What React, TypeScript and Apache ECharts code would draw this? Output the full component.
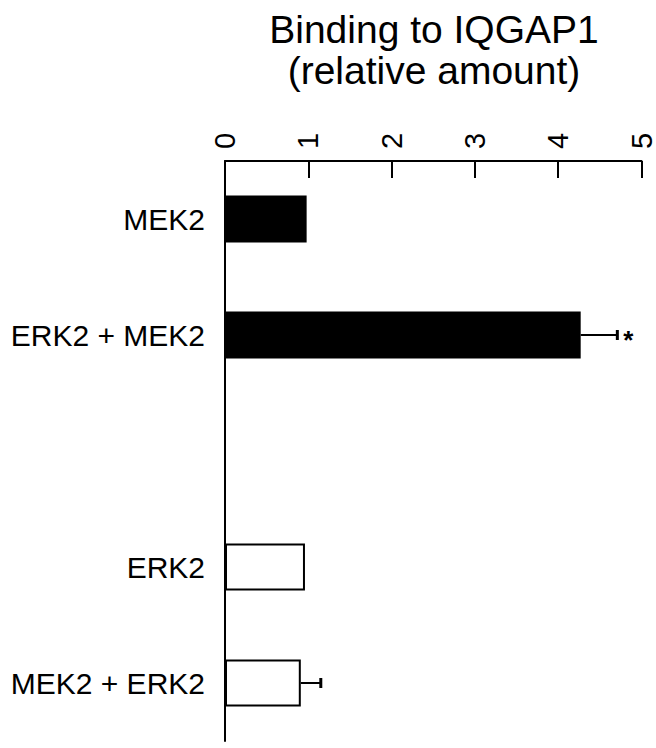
import React, { useEffect, useRef } from "react";
import * as echarts from "echarts";

const titleText = "Binding to IQGAP1\n(relative amount)";
const categories = ["MEK2", "ERK2 + MEK2", "", "ERK2", "MEK2 + ERK2"];
const filledValues = [0.98, 4.27, null, null, null];
const openValues = [null, null, null, 0.96, 0.91];
const errorValues = [0, 0.44, null, 0, 0.24];
const significant = [false, true, false, false, false];
const xTicks = [0, 1, 2, 3, 4, 5];

const FONT = "'Liberation Sans', Arial, Helvetica, sans-serif";

export default function App() {
  const ref = useRef<HTMLDivElement>(null);
  useEffect(() => {
    if (!ref.current) return;
    const chart = echarts.init(ref.current, null, { renderer: "svg" });
    const means = categories.map((_, i) =>
      filledValues[i] != null ? filledValues[i] : openValues[i]
    );
    const errData = categories
      .map((_, i) => [i, means[i], errorValues[i], significant[i] ? 1 : 0])
      .filter((d) => d[1] != null && (d[2] as number) > 0);

    chart.setOption({
      animation: false,
      backgroundColor: "#ffffff",
      title: {
        text: titleText,
        left: 429,
        top: 4,
        textAlign: "center",
        textStyle: {
          fontFamily: FONT,
          fontSize: 39,
          lineHeight: 41,
          fontWeight: "normal",
          color: "#000",
        },
      },
      grid: { left: 225, right: 9, top: 161, bottom: 7, containLabel: false },
      xAxis: {
        type: "value",
        position: "top",
        min: xTicks[0],
        max: xTicks[xTicks.length - 1],
        interval: 1,
        splitLine: { show: false },
        axisLine: { show: true, lineStyle: { color: "#000", width: 2 } },
        axisTick: { show: true, inside: true, length: 17, lineStyle: { color: "#000", width: 2 } },
        axisLabel: {
          rotate: -90,
          margin: 12,
          fontFamily: FONT,
          fontSize: 29,
          color: "#000",
        },
      },
      yAxis: {
        type: "category",
        inverse: true,
        data: categories,
        axisLine: { show: true, lineStyle: { color: "#000", width: 2 } },
        axisTick: { show: false },
        axisLabel: {
          margin: 20,
          fontFamily: FONT,
          fontSize: 30,
          color: "#000",
        },
      },
      series: [
        {
          type: "bar",
          name: "filled",
          data: filledValues,
          barWidth: 47,
          barGap: "-100%",
          itemStyle: { color: "#000" },
        },
        {
          type: "bar",
          name: "open",
          data: openValues,
          barWidth: 47,
          barGap: "-100%",
          itemStyle: { color: "#fff", borderColor: "#000", borderWidth: 2 },
        },
        {
          type: "custom",
          name: "error",
          data: errData,
          z: 5,
          renderItem: (params: any, api: any) => {
            const idx = api.value(0);
            const m = api.value(1);
            const e = api.value(2);
            const sig = api.value(3);
            const p0 = api.coord([m, idx]);
            const p1 = api.coord([m + e, idx]);
            const children: any[] = [
              {
                type: "line",
                shape: { x1: p0[0], y1: p0[1], x2: p1[0], y2: p1[1] },
                style: { stroke: "#000", lineWidth: 2 },
              },
              {
                type: "line",
                shape: { x1: p1[0], y1: p1[1] - 5, x2: p1[0], y2: p1[1] + 5 },
                style: { stroke: "#000", lineWidth: 3 },
              },
            ];
            if (sig) {
              children.push({
                type: "text",
                x: p1[0] + 6,
                y: p1[1] + 5,
                style: {
                  text: "*",
                  fontFamily: FONT,
                  fontSize: 26,
                  fontWeight: "bold",
                  fill: "#000",
                  align: "left",
                  verticalAlign: "middle",
                },
              });
            }
            return { type: "group", children };
          },
        },
      ],
    });
    return () => chart.dispose();
  }, []);
  return (
    <div
      ref={ref}
      style={{ position: "absolute", left: 0, top: 0, width: 656, height: 748 }}
    />
  );
}
